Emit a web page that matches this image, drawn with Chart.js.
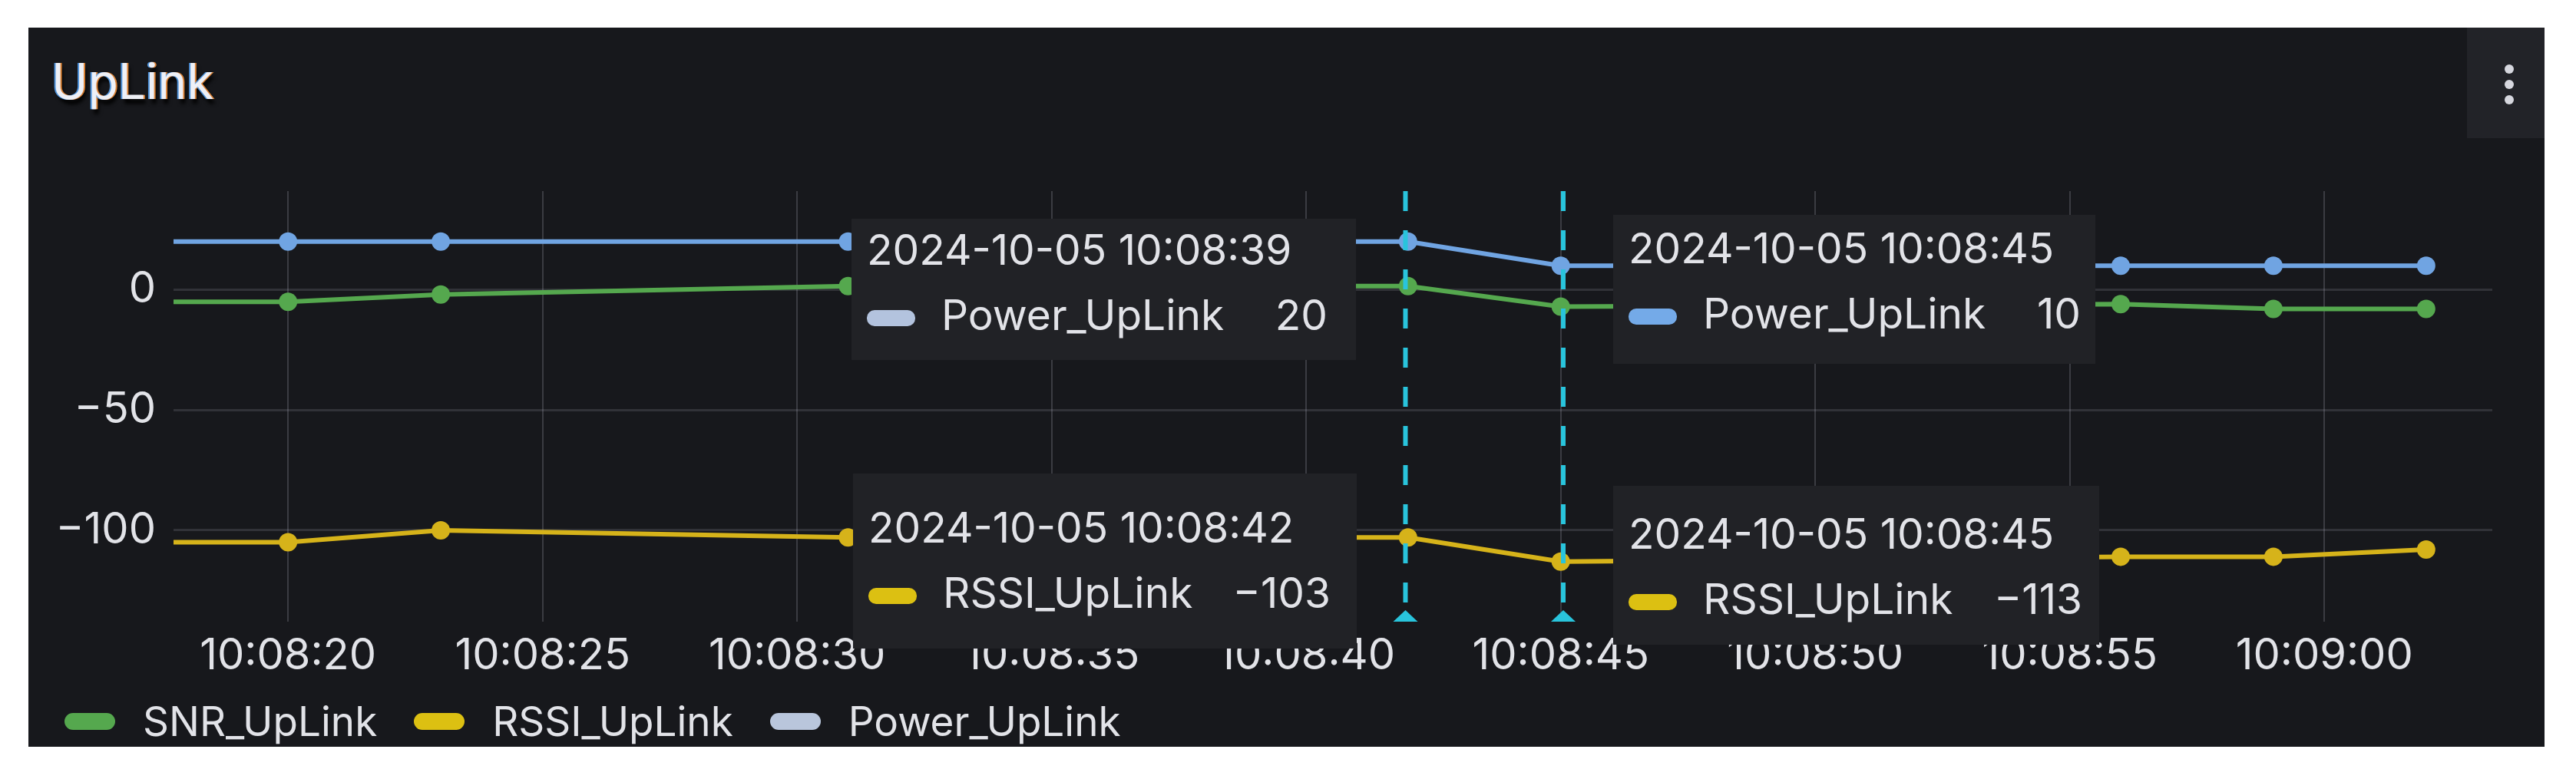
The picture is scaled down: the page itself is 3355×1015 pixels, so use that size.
<!DOCTYPE html>
<html>
<head>
<meta charset="utf-8">
<script src="https://cdn.jsdelivr.net/npm/chart.js@4.4.1/dist/chart.umd.min.js"></script>
<style>
  html, body { margin: 0; padding: 0; background: #fff; width: 3355px; height: 1015px; overflow: hidden; font-family: Inter, "Noto Sans", sans-serif; }
  #panel { position: absolute; left: 37px; top: 36px; width: 3277px; height: 937px; background: #17181c; overflow: hidden; }
  #title { position: absolute; left: 30px; top: 38px; font-size: 64px; line-height: 1; color: #eef0f6; font-weight: 400;
           text-shadow: -2px 0 rgba(90,170,255,0.85), 2px 0 rgba(255,150,60,0.85), 3px 6px 5px #000; }
  #menu { position: absolute; left: 3176px; top: 0; width: 101px; height: 144px; background: #222328; }
  #menu span { position: absolute; left: 49px; width: 12px; height: 12px; border-radius: 50%; background: #d6d7de; }
  #chart { position: absolute; left: 0; top: 0; }
  #legend { position: absolute; left: 47px; top: 874px; height: 60px; display: flex; align-items: center; font-size: 53px; color: #e2e3e8; white-space: nowrap; }
  #legend .sw { width: 66px; height: 22px; border-radius: 11px; margin-right: 36px; }
  #legend .lb { margin-right: 48px; }
</style>
</head>
<body>
<div id="panel">
  <div id="title">UpLink</div>
  <div id="menu"><span style="top:48px"></span><span style="top:68px"></span><span style="top:88px"></span></div>
  <canvas id="chart" width="3277" height="937"></canvas>
  <div id="legend"></div>
</div>
<script>
// ===== Data =====
var seriesNames = ['SNR_UpLink', 'RSSI_UpLink', 'Power_UpLink'];
var times = ['10:08:17', '10:08:20', '10:08:23', '10:08:31', '10:08:42', '10:08:45', '10:08:56', '10:08:59', '10:09:02'];
var snrValues = [-5, -5, -2, 1.5, 1.5, -7, -6, -8, -8];
var rssiValues = [-105, -105, -100, -103, -103, -113, -111, -111, -108];
var powerValues = [20, 20, 20, 20, 20, 10, 10, 10, 10];
var yTickStep = 50;
var xTickStep = 5;
var xRange = ['10:08:17.75', '10:09:03.3'];
var yRange = [-138, 41];
var annotationTimes = ['10:08:41.95', '10:08:45.05'];
var tooltipItems = [
  { time: '2024-10-05 10:08:39', series: 'Power_UpLink', value: 20 },
  { time: '2024-10-05 10:08:45', series: 'Power_UpLink', value: 10 },
  { time: '2024-10-05 10:08:42', series: 'RSSI_UpLink', value: -103 },
  { time: '2024-10-05 10:08:45', series: 'RSSI_UpLink', value: -113 }
];

// ===== Styles =====
var lineColors = ['#55a84e', '#d6b31a', '#70a4e2'];
var legendColors = ['#55a84e', '#dcc012', '#b9c6dc'];
var textColor = '#e2e3e8';
var tickFont = { family: 'Inter', size: 56 };
var tooltipLayout = [
  { x: 1072, y: 249, w: 657, h: 184, head: 60, right: 37, swatch: '#b3c3de' },
  { x: 2064, y: 244, w: 628, h: 194, head: 63, right: 19, swatch: '#74aae8' },
  { x: 1074, y: 581, w: 656, h: 228, head: 90, right: 34, swatch: '#dcc012' },
  { x: 2064, y: 597, w: 633, h: 207, head: 82, right: 22, swatch: '#dcc012' }
];

function toSeconds(t) {
  var p = t.split(':');
  return (parseInt(p[0], 10) - 10) * 3600 + (parseInt(p[1], 10) - 8) * 60 + parseFloat(p[2]);
}
function fmtTime(sec) {
  var s = Math.round(sec);
  var m = 8 + Math.floor(s / 60);
  s = s % 60;
  return '10:' + (m < 10 ? '0' : '') + m + ':' + (s < 10 ? '0' : '') + s;
}
function fmtNum(v) {
  return v < 0 ? '\u2212' + Math.abs(v) : String(v);
}
function points(values) {
  return times.map(function(t, i) { return { x: toSeconds(t), y: values[i] }; });
}

// legend
var legend = document.getElementById('legend');
seriesNames.forEach(function(name, i) {
  var sw = document.createElement('div');
  sw.className = 'sw';
  sw.style.background = legendColors[i];
  var lb = document.createElement('div');
  lb.className = 'lb';
  lb.textContent = name;
  legend.appendChild(sw);
  legend.appendChild(lb);
});

var overlayPlugin = {
  id: 'overlay',
  afterDatasetsDraw: function(chart) {
    var ctx = chart.ctx, area = chart.chartArea, x = chart.scales.x;
    ctx.save();
    ctx.strokeStyle = '#29c4dc';
    ctx.fillStyle = '#29c4dc';
    ctx.lineWidth = 6;
    annotationTimes.forEach(function(t) {
      var px = x.getPixelForValue(toSeconds(t));
      ctx.setLineDash([26, 25]);
      ctx.beginPath();
      ctx.moveTo(px, area.top);
      ctx.lineTo(px, area.bottom - 22);
      ctx.stroke();
      ctx.setLineDash([]);
      ctx.beginPath();
      ctx.moveTo(px, area.bottom - 15);
      ctx.lineTo(px + 16, area.bottom);
      ctx.lineTo(px - 16, area.bottom);
      ctx.closePath();
      ctx.fill();
    });
    ctx.restore();
  },
  afterDraw: function(chart) {
    var ctx = chart.ctx;
    ctx.save();
    tooltipItems.forEach(function(item, i) {
      var L = tooltipLayout[i];
      ctx.fillStyle = '#212226';
      ctx.fillRect(L.x, L.y, L.w, L.h);
      ctx.fillStyle = textColor;
      ctx.font = '55px Inter';
      ctx.textBaseline = 'alphabetic';
      ctx.textAlign = 'left';
      var hb = L.y + L.head;
      ctx.fillText(item.time, L.x + 20, hb);
      var rb = hb + 85;
      ctx.fillText(item.series, L.x + 117, rb);
      ctx.textAlign = 'right';
      ctx.fillText(fmtNum(item.value), L.x + L.w - L.right, rb);
      ctx.fillStyle = L.swatch;
      ctx.beginPath();
      ctx.roundRect(L.x + 20, rb - 26, 63, 21, 10);
      ctx.fill();
    });
    ctx.restore();
  }
};

var values = [snrValues, rssiValues, powerValues];
var datasets = seriesNames.map(function(name, i) {
  return {
    label: name,
    data: points(values[i]),
    borderColor: lineColors[i],
    backgroundColor: lineColors[i],
    pointBackgroundColor: lineColors[i],
    borderWidth: 6,
    pointRadius: 12,
    pointBorderWidth: 0,
    tension: 0
  };
});
// Power drawn on top
datasets.reverse();

new Chart(document.getElementById('chart').getContext('2d'), {
  type: 'line',
  data: { datasets: datasets },
  options: {
    responsive: false,
    animation: false,
    events: [],
    layout: { padding: { left: 37, right: 68, top: 213, bottom: 0 } },
    plugins: { legend: { display: false }, tooltip: { enabled: false } },
    scales: {
      x: {
        type: 'linear',
        min: toSeconds(xRange[0]),
        max: toSeconds(xRange[1]),
        afterFit: function(s) { s.height = 163; },
        grid: { color: 'rgba(204,204,220,0.2)', lineWidth: 2, drawTicks: false },
        border: { display: false },
        ticks: {
          stepSize: xTickStep, includeBounds: false, autoSkip: false, maxRotation: 0, padding: 12,
          color: textColor, font: tickFont,
          callback: function(v) { return fmtTime(v); }
        }
      },
      y: {
        min: yRange[0],
        max: yRange[1],
        afterFit: function(s) { s.width = 152; },
        grid: { color: 'rgba(204,204,220,0.15)', lineWidth: 3, drawTicks: false },
        border: { display: false },
        ticks: {
          stepSize: yTickStep, includeBounds: false, padding: 23,
          color: textColor, font: tickFont,
          callback: function(v) { return fmtNum(v); }
        }
      }
    }
  },
  plugins: [overlayPlugin]
});
</script>
</body>
</html>
